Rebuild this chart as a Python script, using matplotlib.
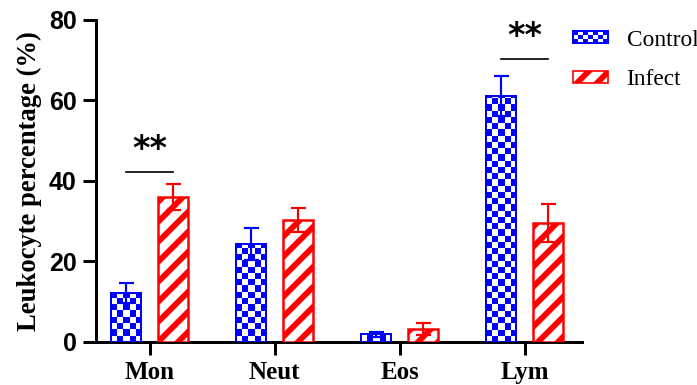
import numpy as np
import matplotlib
matplotlib.use('Agg')
import matplotlib.pyplot as plt
from matplotlib.colors import ListedColormap
from matplotlib.patches import Patch, Rectangle
from matplotlib.legend_handler import HandlerBase

groups = ['Mon', 'Neut', 'Eos', 'Lym']
control_mean = [12.2, 24.4, 1.9, 61.2]
control_err = [2.5, 4.0, 0.6, 5.0]
infect_mean = [36.1, 30.3, 3.2, 29.6]
infect_err = [3.2, 3.0, 1.5, 4.7]
sig_groups = [0, 3]
sig_labels = ['**', '**']
sig_heights = [42.3, 70.4]

blue = '#0000ff'
red = '#ff0000'
plt.rcParams['hatch.linewidth'] = 3.5

fig = plt.figure(figsize=(697 / 120, 385 / 120), dpi=120)
ax = fig.add_axes([0.1377, 0.1117, 0.6973, 0.8364])

x = np.arange(len(groups))
w = 0.24
off = 0.19

# control bars: checkerboard fill clipped to each bar
bars_c = ax.bar(x - off, control_mean, w, facecolor='none', edgecolor=blue,
                linewidth=1.2, zorder=3)
cx, cy = 0.05, 1.55
checker = ListedColormap(['white', blue])
for b in bars_c:
    x0, h = b.get_x(), b.get_height()
    nx = int(np.ceil(b.get_width() / cx))
    ny = int(np.ceil(h / cy))
    board = np.indices((ny, nx)).sum(axis=0) % 2
    im = ax.imshow(board, cmap=checker, extent=(x0, x0 + nx * cx, 0, ny * cy),
                   origin='lower', aspect='auto', interpolation='nearest', zorder=2)
    im.set_clip_path(b)

bars_i = ax.bar(x + off, infect_mean, w, facecolor='white', edgecolor=red,
                hatch='//', linewidth=1.5, zorder=3)

ax.errorbar(x - off, control_mean, yerr=control_err, fmt='none', ecolor=blue,
            elinewidth=1.3, capsize=4.5, capthick=1.3, zorder=4)
ax.errorbar(x + off, infect_mean, yerr=infect_err, fmt='none', ecolor=red,
            elinewidth=1.3, capsize=4.5, capthick=1.3, zorder=4)

for g, lab, hgt in zip(sig_groups, sig_labels, sig_heights):
    ax.plot([x[g] - off, x[g] + off], [hgt, hgt], color='black', lw=1.0)
    ax.text(x[g], hgt + 5.5, lab, ha='center', va='center', fontsize=20,
            fontweight='bold', family='DejaVu Sans')

ax.set_xlim(-0.43, 3.46)
ax.set_ylim(0, 80)
ax.set_yticks([0, 20, 40, 60, 80])
ax.set_xticks(x)
ax.set_xticklabels(groups, fontsize=15, fontweight='bold', family='Liberation Serif')
for t in ax.get_yticklabels():
    t.set_fontsize(15)
    t.set_fontweight('bold')
    t.set_family('Liberation Sans')
ax.set_ylabel('Leukocyte percentage (%)', fontsize=16, fontweight='bold',
              family='Liberation Serif')
ax.spines['top'].set_visible(False)
ax.spines['right'].set_visible(False)
ax.spines['left'].set_linewidth(1.8)
ax.spines['bottom'].set_linewidth(1.8)
ax.tick_params(axis='y', length=8, width=1.8)
ax.tick_params(axis='x', length=8, width=1.8)


class CheckerHandler(HandlerBase):
    def create_artists(self, legend, orig_handle, xdescent, ydescent,
                       width, height, fontsize, trans):
        arts = [Rectangle((-xdescent, -ydescent), width, height, facecolor='white',
                          edgecolor='none', transform=trans)]
        nx, ny = 7, 3
        for i in range(nx):
            for j in range(ny):
                if (i + j) % 2 == 0:
                    arts.append(Rectangle((-xdescent + i * width / nx,
                                           -ydescent + j * height / ny),
                                          width / nx, height / ny, facecolor=blue,
                                          edgecolor='none', transform=trans))
        arts.append(Rectangle((-xdescent, -ydescent), width, height, facecolor='none',
                              edgecolor=blue, lw=1.2, transform=trans))
        return arts


h_ctrl = Patch(label='Control')
h_inf = Patch(facecolor='white', edgecolor=red, hatch='//', label='Infect')
fig.legend(handles=[h_ctrl, h_inf], handler_map={h_ctrl: CheckerHandler()},
           loc='upper left', bbox_to_anchor=(0.822, 0.923), frameon=False,
           prop={'family': 'Liberation Serif', 'size': 14},
           handlelength=1.5, handleheight=0.4, handletextpad=0.8,
           labelspacing=0.8, borderpad=0, borderaxespad=0)

fig.savefig('out.png', dpi=120)
